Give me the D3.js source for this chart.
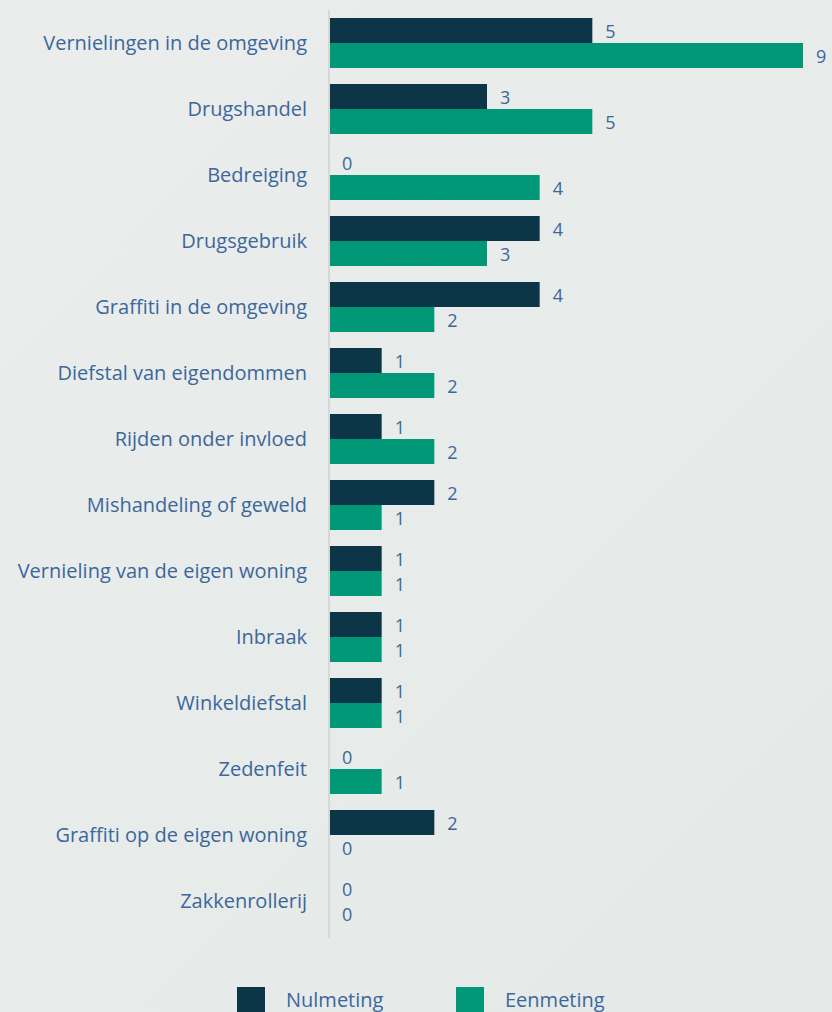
<!DOCTYPE html>
<html>
<head>
<meta charset="utf-8">
<script src="https://cdn.jsdelivr.net/npm/d3@7"></script>
<style>
  html, body { margin: 0; padding: 0; }
  body { background: linear-gradient(135deg, #eaedec 0%, #e7ebea 60%, #e4e9e8 100%); width: 832px; height: 1012px; overflow: hidden; }
</style>
</head>
<body>
<svg id="chart" width="832" height="1012"></svg>
<script>
const categories = [
  "Vernielingen in de omgeving",
  "Drugshandel",
  "Bedreiging",
  "Drugsgebruik",
  "Graffiti in de omgeving",
  "Diefstal van eigendommen",
  "Rijden onder invloed",
  "Mishandeling of geweld",
  "Vernieling van de eigen woning",
  "Inbraak",
  "Winkeldiefstal",
  "Zedenfeit",
  "Graffiti op de eigen woning",
  "Zakkenrollerij"
];
const nulmeting = [5, 3, 0, 4, 4, 1, 1, 2, 1, 1, 1, 0, 2, 0];
const eenmeting = [9, 5, 4, 3, 2, 2, 2, 1, 1, 1, 1, 1, 0, 0];
const seriesNames = ["Nulmeting", "Eenmeting"];
const seriesColors = ["#0c3548", "#009877"];

const font = "'Open Sans', sans-serif";
const textColor = "#3b679b";

const svg = d3.select("#chart");

const x = d3.scaleLinear().domain([0, 9]).range([329, 803]);
const y = d3.scaleBand().domain(categories).range([10, 934]).paddingInner(0.2424).paddingOuter(0.1212);
const ySub = d3.scaleBand().domain(seriesNames).range([0, y.bandwidth()]);

// axis line
svg.append("line")
  .attr("x1", x(0)).attr("x2", x(0))
  .attr("y1", 10).attr("y2", 938)
  .attr("stroke", "#d3d8d8").attr("stroke-width", 2);

const rows = categories.map((c, i) => ({ cat: c, vals: [nulmeting[i], eenmeting[i]] }));

const g = svg.append("g").selectAll("g").data(rows).join("g")
  .attr("transform", d => `translate(0,${y(d.cat)})`);

g.selectAll("rect").data(d => d.vals.map((v, j) => ({ v, s: seriesNames[j], j })))
  .join("rect")
  .attr("x", x(0) + 1)
  .attr("y", d => ySub(d.s))
  .attr("width", d => Math.max(0, x(d.v) - x(0) - 1))
  .attr("height", ySub.bandwidth())
  .attr("fill", d => seriesColors[d.j]);

g.selectAll("text.val").data(d => d.vals.map((v, j) => ({ v, s: seriesNames[j], j })))
  .join("text")
  .attr("class", "val")
  .attr("x", d => x(d.v) + 13)
  .attr("y", d => ySub(d.s) + ySub.bandwidth() / 2 + 1)
  .attr("dy", "0.36em")
  .attr("font-family", font)
  .attr("font-size", 18)
  .attr("fill", textColor)
  .text(d => d.v);

// category labels
svg.append("g").selectAll("text").data(categories).join("text")
  .attr("x", 307)
  .attr("y", d => y(d) + y.bandwidth() / 2)
  .attr("dy", "0.36em")
  .attr("text-anchor", "end")
  .attr("font-family", font)
  .attr("font-size", 20)
  .attr("fill", textColor)
  .text(d => d);

// legend
const legendX = [237, 456];
const legend = svg.append("g").selectAll("g").data(seriesNames).join("g")
  .attr("transform", (d, i) => `translate(${legendX[i]},987)`);
legend.append("rect")
  .attr("width", 28).attr("height", 28)
  .attr("fill", (d, i) => seriesColors[i]);
legend.append("text")
  .attr("x", 49).attr("y", 20)
  .attr("font-family", font)
  .attr("font-size", 20)
  .attr("fill", textColor)
  .text(d => d);
</script>
</body>
</html>
